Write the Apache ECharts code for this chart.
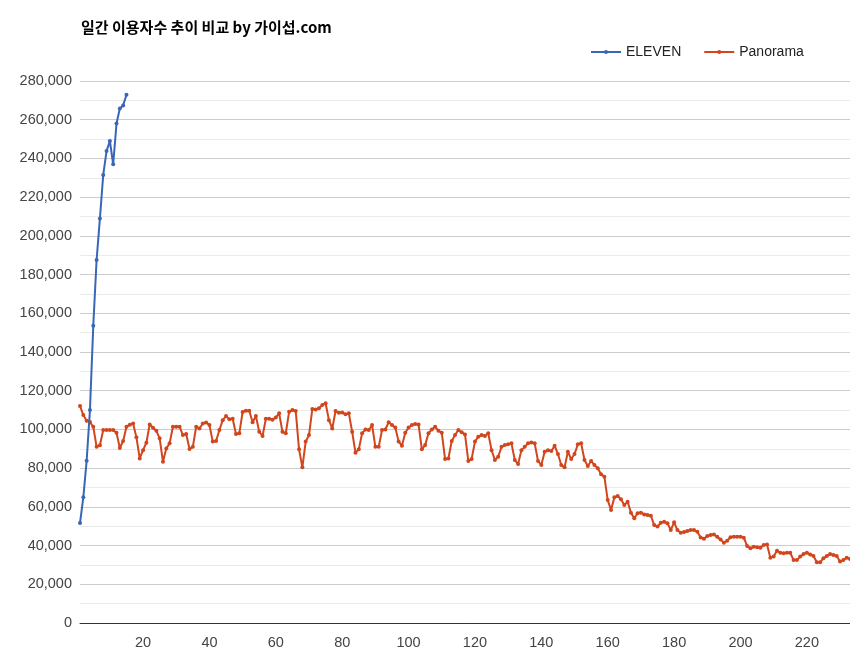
<!DOCTYPE html>
<html>
<head>
<meta charset="utf-8">
<script src="https://cdn.jsdelivr.net/npm/echarts@6/dist/echarts.min.js"></script>
<style>html,body{margin:0;padding:0;background:#fff}#c{width:850px;height:664px}</style>
</head>
<body>
<div id="c"></div>
<script>
const titleText = '일간 이용자수 추이 비교 by 가이섭.com';
const seriesNames = ['ELEVEN', 'Panorama'];
const yTicks = [0,20000,40000,60000,80000,100000,120000,140000,160000,180000,200000,220000,240000,260000,280000];

const eleven = [51600, 64900, 83800, 110000, 153600, 187500, 209000, 231500, 243800, 249000, 237000, 258000, 265800, 267400, 272900];

const panorama = [
112100,107400,104500,103800,101400,91000,91800,99700,99700,99700,
99700,98300,90400,94000,101400,102400,103000,95900,85000,89300,
93100,102600,100900,99300,95400,83300,90200,92800,101400,101400,
101400,97100,97600,89900,91000,101400,100500,103100,103600,102300,
93700,94000,99700,104800,106900,105200,105500,97600,98000,109000,
109700,109700,103700,106900,98800,96600,105500,105500,105000,106200,
108300,98800,98000,109100,110000,109500,89700,80400,93700,97100,
110500,110300,110900,112600,113500,104800,100500,109500,108600,108800,
107800,108300,98800,88000,89700,98000,100000,99700,102300,91000,
91000,99700,100000,103700,102300,101000,93700,91600,98300,101000,
102300,102800,102600,89700,91900,98000,100000,101400,99300,98300,
84700,85000,94000,97100,99700,98500,97400,83700,84700,93700,
96200,97100,96600,98000,89300,84200,85900,91000,91900,92400,
92800,84200,82100,89300,91000,92800,93300,92800,83700,81600,
88500,89300,88800,91600,87300,81600,80400,88500,84700,87300,
92300,92800,84200,81100,83700,81600,79900,76800,75600,63500,
58400,64900,65600,63900,60900,62700,57000,54100,56700,57000,
56100,55800,55400,50600,49800,51800,52300,51500,48000,52000,
48000,46600,47000,47500,48000,48000,47200,44200,43500,44900,
45400,45700,44500,43200,41500,42500,44300,44600,44600,44600,
44100,39800,38600,39400,39100,38900,40300,40600,33700,34300,
37300,36300,36000,36300,36300,32500,32500,34300,35600,36300,
35400,34600,31400,31400,33400,34600,35600,35100,34600,31800,
32500,33700,33000
];

const xCats = panorama.map((_, i) => String(i + 1));
const font = '"Liberation Sans", Arial, sans-serif';
const blue = '#3a66b8';
const red = '#d2461d';

const chart = echarts.init(document.getElementById('c'), null, {renderer: 'canvas'});
chart.setOption({
  animation: false,
  backgroundColor: '#ffffff',
  title: {
    text: titleText,
    left: 76, top: 15,
    textStyle: {fontSize: 15, fontWeight: 'bold', color: '#000', fontFamily: '"Noto Sans CJK KR", sans-serif'}
  },
  legend: {
    data: seriesNames,
    left: 585, top: 40,
    itemWidth: 30, itemHeight: 5, itemGap: 22,
    textStyle: {fontSize: 14, color: '#222', fontFamily: font}
  },
  grid: {left: 80, right: 0, top: 81, bottom: 41, containLabel: false},
  xAxis: {
    type: 'category',
    data: xCats,
    boundaryGap: false,
    axisLine: {show: true, lineStyle: {color: '#333', width: 1}},
    axisTick: {show: false},
    splitLine: {show: false},
    axisLabel: {
      interval: function (idx, val) { return Number(val) % 20 === 0; },
      color: '#444', fontSize: 14.5, fontFamily: font, margin: 12
    }
  },
  yAxis: {
    type: 'value',
    min: yTicks[0], max: yTicks[yTicks.length - 1], interval: 20000,
    axisLine: {show: false},
    axisTick: {show: false},
    axisLabel: {
      color: '#444', fontSize: 14.5, fontFamily: font, margin: 8,
      formatter: v => v.toLocaleString('en-US')
    },
    splitLine: {show: true, lineStyle: {color: '#cccccc', width: 1}},
    minorTick: {show: false, splitNumber: 2},
    minorSplitLine: {show: true, lineStyle: {color: '#ebebeb', width: 1}}
  },
  series: [
    {
      name: seriesNames[0], type: 'line', data: eleven,
      symbol: 'circle', symbolSize: 4, showSymbol: true, showAllSymbol: true,
      itemStyle: {color: blue},
      lineStyle: {color: blue, width: 2},
      z: 3
    },
    {
      name: seriesNames[1], type: 'line', data: panorama,
      symbol: 'circle', symbolSize: 4, showSymbol: true, showAllSymbol: true,
      itemStyle: {color: red},
      lineStyle: {color: red, width: 2},
      z: 2
    }
  ]
});
</script>
</body>
</html>
